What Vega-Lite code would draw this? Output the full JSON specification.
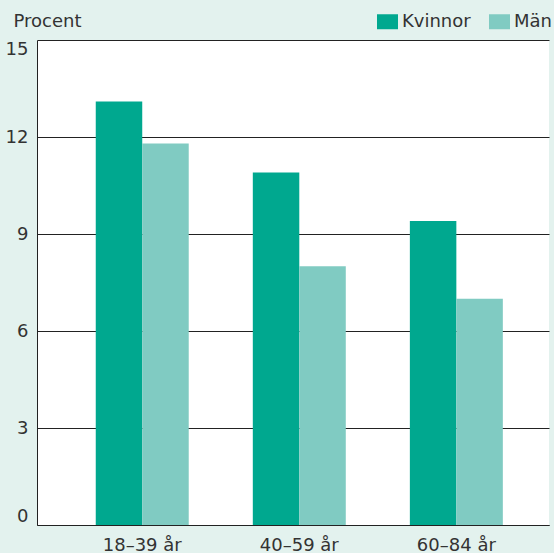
{
  "$schema": "https://vega.github.io/schema/vega-lite/v6.json",
  "width": 512,
  "height": 485,
  "autosize": {"type": "none"},
  "padding": {"left": 37, "top": 40, "right": 5, "bottom": 28},
  "background": "#e3f2ee",
  "config": {"view": {"fill": "white", "stroke": null}, "font": "DejaVu Sans"},
  "data": {"values": [
    {"age": "18–39 år", "sex": "Kvinnor", "value": 13.1},
    {"age": "18–39 år", "sex": "Män", "value": 11.8},
    {"age": "40–59 år", "sex": "Kvinnor", "value": 10.9},
    {"age": "40–59 år", "sex": "Män", "value": 8.0},
    {"age": "60–84 år", "sex": "Kvinnor", "value": 9.4},
    {"age": "60–84 år", "sex": "Män", "value": 7.0}
  ]},
  "mark": {"type": "bar"},
  "encoding": {
    "x": {"field": "age", "type": "nominal", "sort": ["18–39 år", "40–59 år", "60–84 år"],
      "scale": {"paddingInner": 0.408, "paddingOuter": 0.334, "align": 0.56},
      "axis": {"title": null, "labelAngle": 0, "ticks": false, "domain": true, "domainColor": "#222", "labelFontSize": 18, "labelColor": "#333", "labelPadding": 11}},
    "xOffset": {"field": "sex", "sort": ["Kvinnor", "Män"]},
    "y": {"field": "value", "type": "quantitative", "scale": {"domain": [0, 15]},
      "axis": {"values": [0, 3, 6, 9, 12, 15], "title": "Procent", "titleAngle": 0, "titleAlign": "left", "titleX": -24, "titleY": -14, "titleBaseline": "alphabetic", "titleFontWeight": "normal", "titleFontSize": 18, "titleColor": "#333", "ticks": false, "labelPadding": 9, "labelFlush": true, "gridColor": "#222", "gridOpacity": 1, "domainColor": "#222", "labelFontSize": 18, "labelColor": "#333"}},
    "color": {"field": "sex", "type": "nominal",
      "scale": {"domain": ["Kvinnor", "Män"], "range": ["#00a88f", "#80cbc2"]},
      "legend": {"title": null, "orient": "none", "direction": "horizontal", "legendX": 340, "legendY": -29, "symbolType": "M-1,-0.714L1,-0.714L1,0.714L-1,0.714Z", "symbolSize": 441, "symbolStrokeWidth": 0, "symbolOpacity": 1, "labelFontSize": 18, "labelColor": "#333", "labelOffset": 4, "columnPadding": 18}}
  }
}
